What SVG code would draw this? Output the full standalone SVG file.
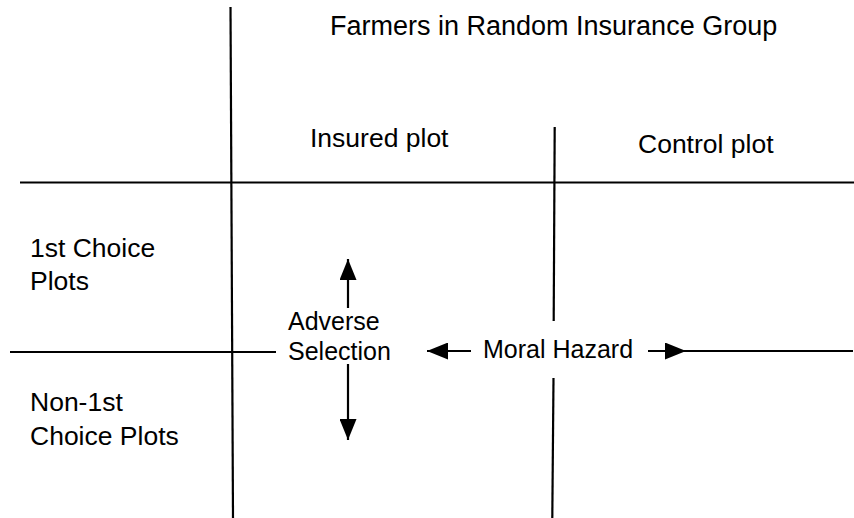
<svg xmlns="http://www.w3.org/2000/svg" width="854" height="518" viewBox="0 0 854 518">
<defs>
<style>
text{font-family:"Liberation Sans",Arial,sans-serif;font-size:26.5px;fill:#000}
.sm{font-size:25px}
.tt{font-size:27px}
.ln{stroke:#000;stroke-width:2.2;fill:none}
.ar{stroke:#000;stroke-width:2.2;fill:none;marker-end:url(#ah)}
</style>
<marker id="ah" viewBox="0 0 21 17" refX="21" refY="8.5" markerWidth="21" markerHeight="17" markerUnits="userSpaceOnUse" orient="auto">
<path d="M0,0 L21,8.5 L0,17 Z" fill="#000"/>
</marker>
<linearGradient id="g" x1="0" x2="1" y1="0" y2="0"><stop offset="0" stop-color="#ddd"/><stop offset="1" stop-color="#888"/></linearGradient>
</defs>
<rect width="854" height="518" fill="#fff"/>
<g id="connectors">
<line class="ln" x1="230.5" y1="7" x2="233" y2="518"/>
<line class="ln" x1="554.7" y1="127" x2="553.7" y2="321"/>
<line class="ln" x1="553.5" y1="378" x2="552.3" y2="518"/>
<line class="ln" x1="20" y1="182.5" x2="854" y2="182.5"/>
<line class="ln" x1="10" y1="352" x2="276" y2="352"/>
<line class="ar" x1="348" y1="308" x2="348" y2="259"/>
<line class="ar" x1="348" y1="364" x2="348" y2="440"/>
<line class="ar" x1="471" y1="351" x2="427" y2="351"/>
<line class="ar" x1="648" y1="351" x2="686" y2="351"/>
<line class="ln" x1="684" y1="351" x2="853" y2="351"/>
<line x1="700" y1="517" x2="845" y2="517" stroke="url(#g)" stroke-width="1.5"/>
</g>
<g id="title"><text class="tt" x="330" y="35">Farmers in Random Insurance Group</text></g>
<g id="insured"><text x="310" y="147">Insured plot</text></g>
<g id="control"><text x="638" y="153">Control plot</text></g>
<g id="first"><text x="30" y="257">1st Choice</text><text x="30" y="290">Plots</text></g>
<g id="nonfirst"><text x="30" y="411">Non-1st</text><text x="30" y="445">Choice Plots</text></g>
<g id="adverse"><text class="sm" x="288" y="330">Adverse</text><text class="sm" x="288" y="360">Selection</text></g>
<g id="moral"><text class="sm" x="483" y="358">Moral Hazard</text></g>
</svg>
